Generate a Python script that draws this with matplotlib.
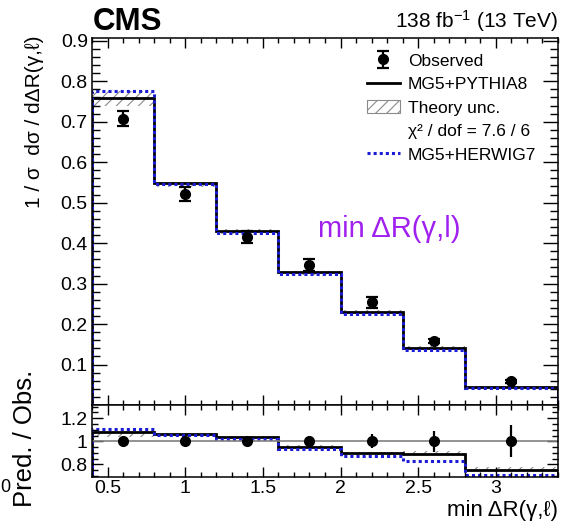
import matplotlib

matplotlib.use("Agg")
import matplotlib.pyplot as plt
from matplotlib.lines import Line2D
from matplotlib.patches import Patch
from matplotlib.ticker import MultipleLocator

# bins of min dR(gamma, lepton)
edges = [0.4, 0.8, 1.2, 1.6, 2.0, 2.4, 2.8, 3.4]
centers = [0.6, 1.0, 1.4, 1.8, 2.2, 2.6, 3.1]

# normalised cross section
obs = [0.708, 0.521, 0.415, 0.346, 0.254, 0.158, 0.059]
obs_err = [0.019, 0.018, 0.015, 0.014, 0.014, 0.006, 0.004]
pythia = [0.759, 0.548, 0.430, 0.328, 0.230, 0.141, 0.045]
herwig = [0.775, 0.545, 0.425, 0.323, 0.225, 0.136, 0.042]
theory_lo = [0.740, 0.538, 0.423, 0.322, 0.226, 0.138, 0.043]
theory_hi = [0.776, 0.552, 0.434, 0.331, 0.234, 0.146, 0.048]

# ratio pred / obs
ratio_obs = [1.0, 1.0, 1.0, 1.0, 1.0, 1.0, 1.0]
ratio_obs_err = [0.03, 0.03, 0.03, 0.04, 0.06, 0.09, 0.14]
ratio_pythia = [1.078, 1.061, 1.037, 0.953, 0.896, 0.890, 0.750]
ratio_herwig = [1.104, 1.058, 1.017, 0.936, 0.875, 0.830, 0.707]
ratio_lo = [1.035, 1.050, 1.025, 0.940, 0.880, 0.885, 0.745]
ratio_hi = [1.085, 1.072, 1.045, 0.965, 0.905, 0.915, 0.775]

BLUE = "#1c1cd6"
PURPLE = "#a020f0"
HATCH_GREY = "#8a8a8a"

plt.rcParams.update(
    {
        "font.family": ["Liberation Sans", "DejaVu Sans"],
        "mathtext.fontset": "custom",
        "mathtext.rm": "Liberation Sans",
        "mathtext.it": "Liberation Sans:italic",
        "hatch.linewidth": 0.8,
        "axes.linewidth": 1.1,
    }
)

W, H = 564, 522
fig = plt.figure(figsize=(W / 100, H / 100), dpi=100)


def box(x0, y0, x1, y1):
    return [x0 / W, 1 - y1 / H, (x1 - x0) / W, (y1 - y0) / H]


ax = fig.add_axes(box(92, 38, 558, 405))
rax = fig.add_axes(box(92, 405, 558, 477), sharex=ax)


def style_ticks(a, ymajor, yminor, ylen):
    a.xaxis.set_major_locator(MultipleLocator(0.5))
    a.xaxis.set_minor_locator(MultipleLocator(0.1))
    a.yaxis.set_major_locator(MultipleLocator(ymajor))
    a.yaxis.set_minor_locator(MultipleLocator(yminor))
    a.tick_params(which="both", direction="in", top=True, right=True, width=1.0, labelsize=14)
    a.tick_params(axis="y", which="major", length=ylen, pad=3)
    a.tick_params(axis="y", which="minor", length=ylen / 2)
    a.tick_params(axis="x", which="major", length=7, pad=2)
    a.tick_params(axis="x", which="minor", length=3.5)


# main panel
ax.stairs(theory_hi, edges, baseline=theory_lo, fill=True, facecolor="none",
          edgecolor=HATCH_GREY, hatch="///", linewidth=0)
ax.stairs(pythia, edges, color="black", linewidth=2.0)
ax.stairs(herwig, edges, color=BLUE, linewidth=2.2, linestyle=(0, (1, 1)))
obs_handle = ax.errorbar(centers, obs, yerr=obs_err, fmt="o", color="black",
                         markersize=7, capsize=4, elinewidth=1.6, capthick=1.6)
ax.set_xlim(0.4, 3.4)
ax.set_ylim(0.0, 0.907)
style_ticks(ax, 0.1, 0.02, 11)
ax.tick_params(axis="x", labelbottom=False)
ax.set_yticks([0.1, 0.2, 0.3, 0.4, 0.5, 0.6, 0.7, 0.8, 0.9])

handles = [
    obs_handle,
    Line2D([], [], color="black", linewidth=2.0),
    Patch(facecolor="white", edgecolor=HATCH_GREY, hatch="///", linewidth=0.8),
    Line2D([], [], alpha=0),
    Line2D([], [], color=BLUE, linewidth=2.2, linestyle=(0, (1, 1))),
]
labels = ["Observed", "MG5+PYTHIA8", "Theory unc.", "\u03c7\u00b2 / dof = 7.6 / 6", "MG5+HERWIG7"]
ax.legend(handles, labels, loc="upper left", bbox_to_anchor=(0.59, 0.958), frameon=False,
          fontsize=12.5, handlelength=1.9, handletextpad=0.45, labelspacing=0.48,
          borderaxespad=0, borderpad=0)

ax.text((318 - 92) / 466, (405 - 237) / 367, "min \u0394R(\u03b3,l)", transform=ax.transAxes,
        color=PURPLE, fontsize=21, ha="left", va="baseline")

# ratio panel
rax.axhline(1.0, color="#808080", linewidth=1.2)
rax.stairs(ratio_hi, edges, baseline=ratio_lo, fill=True, facecolor="none",
           edgecolor=HATCH_GREY, hatch="///", linewidth=0)
rax.stairs(ratio_pythia, edges, color="black", linewidth=2.0)
rax.stairs(ratio_herwig, edges, color=BLUE, linewidth=2.2, linestyle=(0, (1, 1)))
rax.errorbar(centers, ratio_obs, yerr=ratio_obs_err, fmt="o", color="black",
             markersize=7, capsize=0, elinewidth=1.6)
rax.set_ylim(0.69, 1.315)
style_ticks(rax, 0.2, 0.05, 8)
rax.set_yticks([0.8, 1.0, 1.2])
rax.set_yticklabels(["0.8", "1", "1.2"])
rax.set_xticks([0.5, 1, 1.5, 2, 2.5, 3])
rax.set_xticklabels(["0.5", "1", "1.5", "2", "2.5", "3"])

# labels and header
fig.text(93 / W, 1 - 30 / H, "CMS", fontsize=22.5, fontweight="bold", ha="left", va="baseline")
fig.text(558 / W, 1 - 28 / H, "138 fb$^{-1}$ (13 TeV)", fontsize=15, ha="right", va="baseline")
fig.text(35 / W, 1 - 36 / H, "1 / \u03c3  d\u03c3 / d\u0394R(\u03b3,\u2113)", rotation=90,
         fontsize=15, ha="center", va="top")
fig.text(25 / W, 1 - 438 / H, "Pred. / Obs.", rotation=90, fontsize=18.5, ha="center", va="center")
fig.text(558 / W, 1 - 516 / H, "min \u0394R(\u03b3,\u2113)", fontsize=16, ha="right", va="baseline")
fig.text(0.0, 1 - 487 / H, "0", fontsize=13, ha="left", va="center")

fig.savefig("out.png", dpi=100)
